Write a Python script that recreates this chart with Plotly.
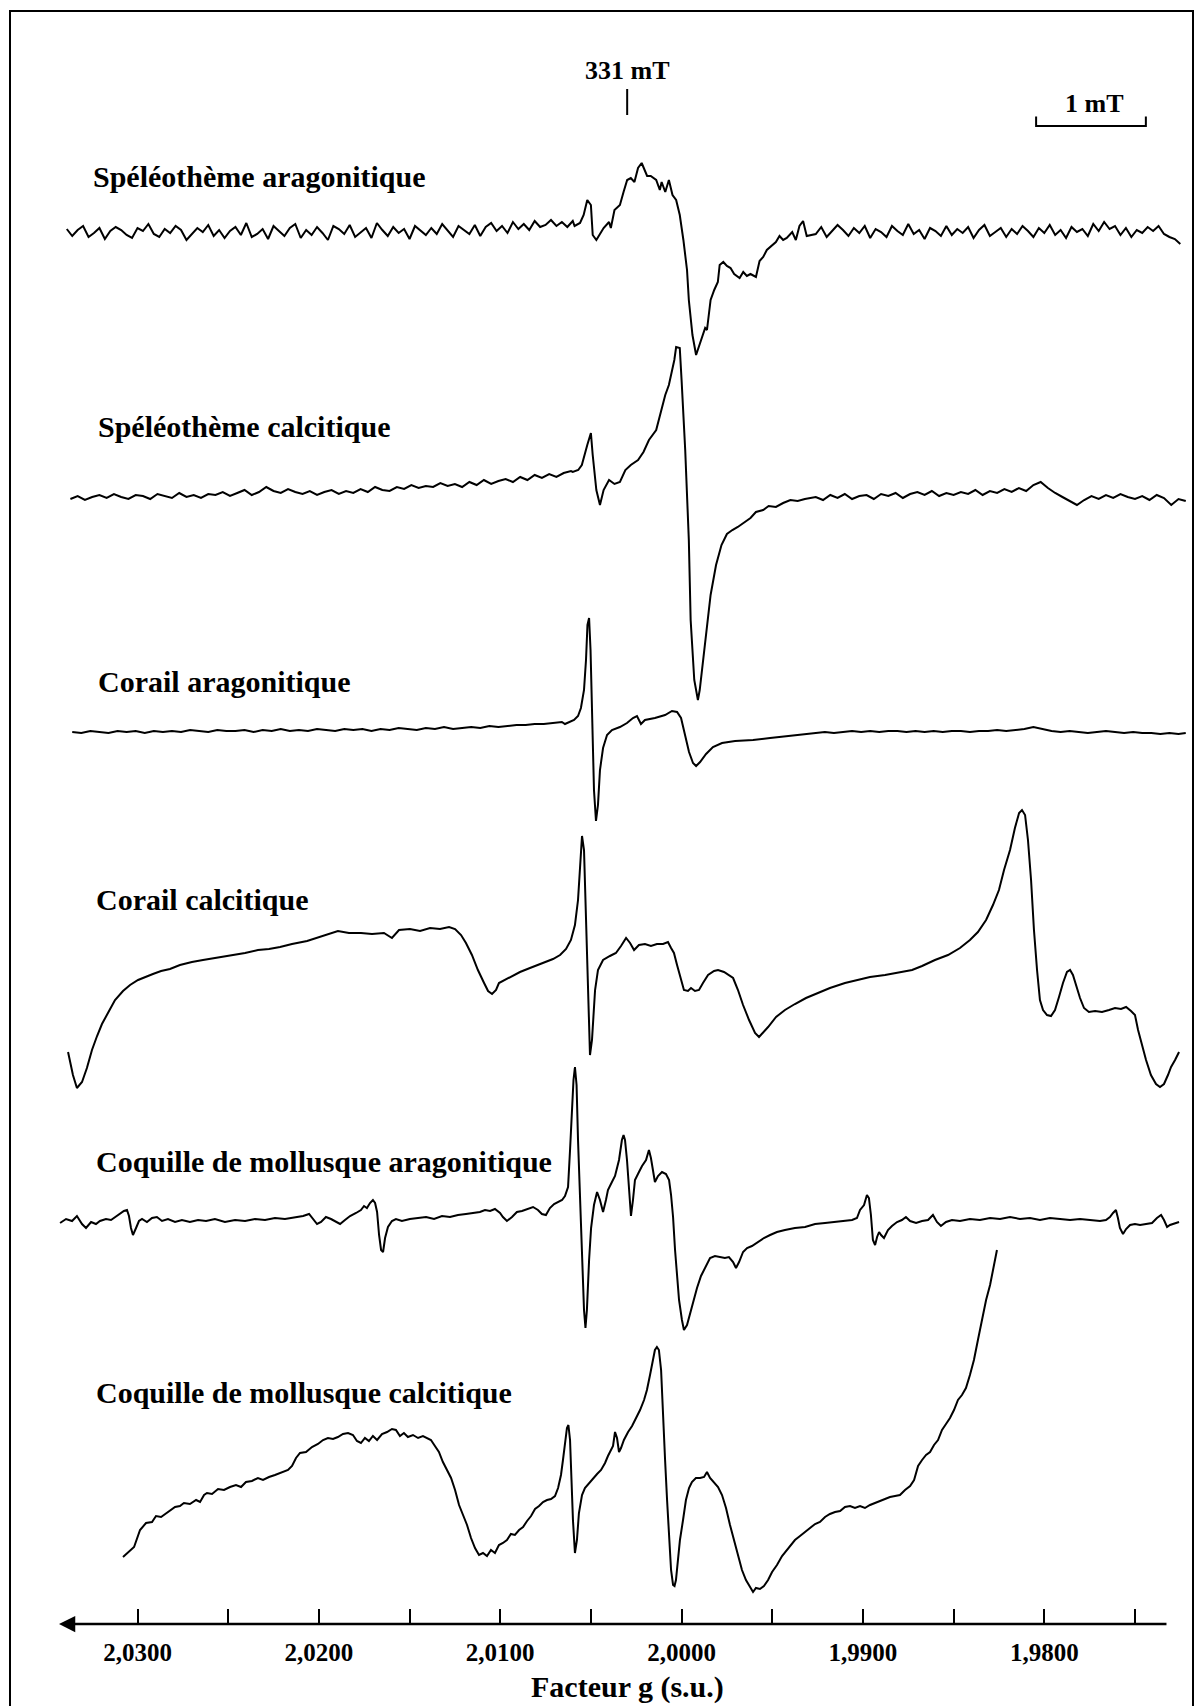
import plotly.graph_objects as go

# ------------------------------------------------------------------
# Values
# ------------------------------------------------------------------
g_tick_values = [2.030, 2.025, 2.020, 2.015, 2.010, 2.005, 2.000,
                 1.995, 1.990, 1.985, 1.980, 1.975]
g_tick_labels = ["2,0300", "", "2,0200", "", "2,0100", "", "2,0000",
                 "", "1,9900", "", "1,9800", ""]
axis_title = "Facteur g (s.u.)"
field_marker_mT = 331
field_marker_g = 2.0030
scale_bar_mT = 1
scale_bar_right_g = 1.9744

sample_names = ["Spéléothème aragonitique", "Spéléothème calcitique",
                "Corail aragonitique", "Corail calcitique",
                "Coquille de mollusque aragonitique",
                "Coquille de mollusque calcitique"]

# ---------------- Spéléothème aragonitique ----------------
s1_left_g = [2.0339, 2.0336, 2.0333, 2.0330, 2.0327, 2.0324, 2.0321, 2.0318, 2.0315, 2.0312,
             2.0309, 2.0306, 2.0303, 2.0300, 2.0297, 2.0294, 2.0291, 2.0288, 2.0285, 2.0282,
             2.0279, 2.0276, 2.0273, 2.0270, 2.0267, 2.0264, 2.0261, 2.0258, 2.0255, 2.0252,
             2.0249, 2.0246, 2.0243, 2.0240, 2.0237, 2.0234, 2.0231, 2.0228, 2.0225, 2.0222,
             2.0219, 2.0216, 2.0213, 2.0210, 2.0207, 2.0204, 2.0201, 2.0198, 2.0195, 2.0192,
             2.0189, 2.0186, 2.0183, 2.0180, 2.0177, 2.0174, 2.0171, 2.0168, 2.0165, 2.0162,
             2.0159, 2.0156, 2.0153, 2.0150, 2.0147, 2.0144, 2.0141, 2.0138, 2.0135, 2.0132,
             2.0129, 2.0126, 2.0123, 2.0120, 2.0117, 2.0114, 2.0111, 2.0108, 2.0105, 2.0102,
             2.0099, 2.0096, 2.0093, 2.0090, 2.0087, 2.0084, 2.0081, 2.0078, 2.0075, 2.0072,
             2.0069, 2.0066, 2.0063, 2.0060]
s1_left_i = [0.3, -0.4, 0.2, 0.6, -0.5, -0.1, 0.4, -0.7, 0.1, 0.5,
             0.2, -0.3, -0.6, 0.4, 0.1, 0.8, -0.2, -0.5, 0.3, -0.1,
             0.6, 0.2, -0.8, -0.2, 0.4, 0.0, 0.7, -0.4, 0.2, -0.6,
             0.1, 0.5, -0.3, 0.9, -0.5, -0.2, 0.3, -0.7, 0.6, 0.1,
             -0.4, 0.4, 0.8, -0.6, 0.2, -0.3, 0.5, -0.1, -0.8, 0.6,
             0.3, -0.2, 0.7, -0.5, 0.0, 0.4, -0.6, 0.9, 0.2, -0.4,
             0.5, -0.1, 0.3, -0.7, 0.6, 0.1, -0.3, 0.4, -0.2, 0.8,
             0.1, -0.5, 0.6, 0.2, -0.2, 0.7, -0.4, 0.5, 0.9, 0.1,
             0.6, -0.1, 1.0, 0.3, 0.8, 0.2, 1.1, 0.5, 0.7, 1.2,
             0.6, 1.0, 0.5, 1.1]
s1_mid_g = [2.0059, 2.0056, 2.0054, 2.0052, 2.0050, 2.0049, 2.0047, 2.0045, 2.0043, 2.0040,
            2.0039, 2.0037, 2.0034, 2.0032, 2.0030, 2.0028, 2.0026, 2.0024, 2.0022, 2.0019,
            2.0017, 2.0014, 2.0012, 2.0011, 2.0009, 2.0007, 2.0005, 2.0003, 2.0001, 1.9999,
            1.9997, 1.9996, 1.9994, 1.9992, 1.9991, 1.9989, 1.9987, 1.9986, 1.9984, 1.9982,
            1.9980, 1.9979, 1.9977, 1.9975, 1.9973, 1.9971, 1.9968, 1.9966, 1.9964, 1.9962,
            1.9959, 1.9957, 1.9955, 1.9953, 1.9950, 1.9948, 1.9946, 1.9944, 1.9942, 1.9939,
            1.9937, 1.9935, 1.9933, 1.9931]
s1_mid_i = [0.6, 0.9, 1.7, 3.2, 2.7, -0.3, -0.8, -0.2, 0.4, 1.0,
            0.4, 2.2, 2.7, 4.0, 5.2, 5.4, 5.0, 6.4, 6.9, 5.6,
            5.6, 5.2, 4.2, 5.0, 4.0, 5.2, 3.7, 3.2, 1.7, -0.8,
            -3.8, -6.8, -10.3, -12.3, -11.8, -10.8, -9.6, -9.8, -6.8, -5.8,
            -5.0, -3.3, -3.0, -3.4, -3.6, -4.2, -4.6, -4.0, -4.4, -4.2,
            -4.5, -2.9, -2.5, -1.8, -1.3, -1.0, -0.4, -0.8, -0.6, 0.0,
            -0.8, 0.6, 1.1, -0.4]
s1_right_g = [1.9926, 1.9923, 1.9920, 1.9917, 1.9914, 1.9911, 1.9908, 1.9905, 1.9902, 1.9899,
              1.9896, 1.9893, 1.9890, 1.9887, 1.9884, 1.9881, 1.9878, 1.9875, 1.9872, 1.9869,
              1.9866, 1.9863, 1.9860, 1.9857, 1.9854, 1.9851, 1.9848, 1.9845, 1.9842, 1.9839,
              1.9836, 1.9833, 1.9830, 1.9827, 1.9824, 1.9821, 1.9818, 1.9815, 1.9812, 1.9809,
              1.9806, 1.9803, 1.9800, 1.9797, 1.9794, 1.9791, 1.9788, 1.9785, 1.9782, 1.9779,
              1.9776, 1.9773, 1.9770, 1.9767, 1.9764, 1.9761, 1.9758, 1.9755, 1.9752, 1.9749,
              1.9746, 1.9743, 1.9740, 1.9737, 1.9734, 1.9731, 1.9728, 1.9725]
s1_right_i = [-0.2, 0.5, -0.5, 0.1, 0.7, 0.2, -0.4, 0.4, -0.1, 0.6,
              -0.6, 0.3, 0.0, -0.5, 0.6, 0.1, -0.3, 0.8, -0.2, 0.2,
              -0.7, 0.4, 0.1, -0.4, 0.6, -0.3, 0.3, -0.1, 0.5, -0.6,
              0.2, 0.7, -0.4, 0.0, 0.4, -0.5, 0.3, -0.2, 0.6, 0.1,
              -0.5, 0.4, -0.1, 0.7, -0.3, 0.2, -0.6, 0.5, 0.0, 0.3,
              -0.4, 0.8, 0.1, 1.0, 0.3, 0.6, -0.3, 0.4, -0.5, 0.2,
              -0.1, 0.5, 0.1, 0.6, -0.2, -0.5, -0.7, -1.2]

# ---------------- Spéléothème calcitique ----------------
s2_left_g = [2.0337, 2.0333, 2.0329, 2.0325, 2.0321, 2.0317, 2.0313, 2.0309, 2.0305, 2.0301,
             2.0297, 2.0293, 2.0289, 2.0285, 2.0281, 2.0277, 2.0273, 2.0269, 2.0265, 2.0261,
             2.0257, 2.0253, 2.0249, 2.0245, 2.0241, 2.0237, 2.0233, 2.0229, 2.0225, 2.0221,
             2.0217, 2.0213, 2.0209, 2.0205, 2.0201, 2.0197, 2.0193, 2.0189, 2.0185, 2.0181,
             2.0177, 2.0173, 2.0169, 2.0165, 2.0161, 2.0157, 2.0153, 2.0149, 2.0145, 2.0141,
             2.0137, 2.0133, 2.0129, 2.0125, 2.0121, 2.0117, 2.0113, 2.0109, 2.0105, 2.0101,
             2.0097, 2.0093, 2.0089, 2.0085, 2.0081, 2.0077, 2.0073, 2.0069, 2.0065, 2.0061]
s2_left_i = [-0.2, 0.1, -0.3, 0.0, 0.2, -0.1, 0.3, 0.0, -0.2, 0.2,
             0.1, -0.2, 0.3, 0.1, -0.1, 0.4, 0.0, 0.2, -0.1, 0.3,
             0.2, 0.5, 0.1, 0.4, 0.7, 0.2, 0.5, 1.0, 0.6, 0.4,
             0.8, 0.5, 0.3, 0.6, 0.2, 0.5, 0.7, 0.3, 0.6, 0.4,
             0.8, 0.5, 1.0, 0.7, 0.6, 1.0, 0.8, 1.2, 0.9, 1.1,
             1.0, 1.4, 1.1, 1.3, 1.0, 1.5, 1.2, 1.7, 1.3, 1.6,
             1.8, 1.5, 2.0, 1.7, 2.2, 1.9, 2.3, 2.0, 2.4, 2.6]
s2_mid_g = [2.0060, 2.0057, 2.0055, 2.0052, 2.0050, 2.0049, 2.0047, 2.0045, 2.0043, 2.0040,
            2.0037, 2.0034, 2.0031, 2.0028, 2.0024, 2.0021, 2.0018, 2.0014, 2.0011, 2.0009,
            2.0007, 2.0004, 2.0003, 2.0001, 2.0000, 1.9998, 1.9996, 1.9995, 1.9993, 1.9991,
            1.9990, 1.9988, 1.9986, 1.9984, 1.9981, 1.9978, 1.9975, 1.9972, 1.9969, 1.9965,
            1.9962, 1.9959, 1.9955, 1.9952, 1.9948, 1.9944, 1.9940, 1.9936, 1.9932]
s2_mid_i = [2.5, 2.7, 3.2, 5.2, 6.4, 4.2, 0.7, -0.8, 0.7, 1.7,
            1.3, 1.5, 2.7, 3.2, 3.7, 4.5, 5.7, 6.7, 8.7, 10.2,
            11.2, 13.7, 15.0, 14.9, 11.7, 4.7, -4.3, -12.3, -18.3, -20.3,
            -19.3, -16.3, -13.3, -9.8, -6.8, -4.8, -3.7, -3.3, -3.0, -2.5,
            -2.1, -1.5, -1.3, -0.9, -1.0, -0.6, -0.3, -0.4, -0.2]
s2_right_g = [1.9926, 1.9922, 1.9918, 1.9914, 1.9910, 1.9906, 1.9902, 1.9898, 1.9894, 1.9890,
              1.9886, 1.9882, 1.9878, 1.9874, 1.9870, 1.9866, 1.9862, 1.9858, 1.9854, 1.9850,
              1.9846, 1.9842, 1.9838, 1.9834, 1.9830, 1.9826, 1.9822, 1.9818, 1.9814, 1.9810,
              1.9806, 1.9802, 1.9798, 1.9794, 1.9790, 1.9786, 1.9782, 1.9778, 1.9774, 1.9770,
              1.9766, 1.9762, 1.9758, 1.9754, 1.9750, 1.9746, 1.9742, 1.9738, 1.9734, 1.9730,
              1.9726, 1.9722]
s2_right_i = [0.0, -0.3, 0.2, -0.1, 0.3, -0.2, 0.1, 0.2, -0.2, 0.3,
              0.1, 0.4, -0.1, 0.3, 0.5, 0.2, 0.6, 0.1, 0.4, 0.2,
              0.5, 0.3, 0.7, 0.2, 0.6, 0.4, 0.8, 0.5, 0.9, 0.6,
              1.2, 1.5, 0.9, 0.4, 0.0, -0.4, -0.8, -0.3, 0.1, -0.2,
              0.2, -0.1, 0.3, 0.0, -0.2, 0.1, -0.3, 0.2, -0.1, -0.8,
              -0.2, -0.4]

# ---------------- Corail aragonitique ----------------
s3_left_g = [2.0336, 2.0331, 2.0326, 2.0321, 2.0316, 2.0311, 2.0306, 2.0301, 2.0296, 2.0291,
             2.0286, 2.0281, 2.0276, 2.0271, 2.0266, 2.0261, 2.0256, 2.0251, 2.0246, 2.0241,
             2.0236, 2.0231, 2.0226, 2.0221, 2.0216, 2.0211, 2.0206, 2.0201, 2.0196, 2.0191,
             2.0186, 2.0181, 2.0176, 2.0171, 2.0166, 2.0161, 2.0156, 2.0151, 2.0146, 2.0141,
             2.0136, 2.0131, 2.0126, 2.0121, 2.0116, 2.0111, 2.0106, 2.0101, 2.0096, 2.0091,
             2.0086, 2.0081, 2.0076, 2.0071, 2.0066]
s3_left_i = [0.0, -0.1, 0.1, 0.0, -0.1, 0.1, 0.0, 0.1, -0.1, 0.1,
             0.0, 0.1, 0.0, 0.2, 0.1, 0.0, 0.2, 0.1, 0.1, 0.2,
             0.0, 0.2, 0.1, 0.3, 0.1, 0.2, 0.1, 0.3, 0.2, 0.1,
             0.3, 0.2, 0.3, 0.1, 0.3, 0.2, 0.4, 0.3, 0.2, 0.4,
             0.3, 0.5, 0.3, 0.4, 0.5, 0.4, 0.6, 0.5, 0.6, 0.7,
             0.7, 0.8, 0.8, 0.9, 1.0]
s3_mid_g = [2.00643, 2.00615, 2.00593, 2.00571, 2.00555, 2.00538, 2.00527, 2.00519, 2.00510, 2.00502,
            2.00494, 2.00483, 2.00472, 2.00461, 2.00450, 2.00433, 2.00411, 2.00384, 2.00340, 2.00301,
            2.00268, 2.00246, 2.00224, 2.00202, 2.00147, 2.00091, 2.00053, 2.00025, 2.00003, 1.99981,
            1.99959, 1.99937, 1.99920, 1.99898, 1.99865, 1.99827, 1.99777, 1.99705, 1.99606, 1.99512,
            1.99419, 1.99319]
s3_mid_i = [0.8, 1.0, 1.2, 1.6, 2.4, 4.2, 7.2, 10.7, 11.4, 8.2,
            1.2, -5.8, -8.9, -7.3, -3.8, -1.6, -0.3, 0.2, 0.5, 0.9,
            1.4, 1.6, 0.8, 1.2, 1.4, 1.7, 2.1, 2.0, 1.4, -0.3,
            -2.0, -3.1, -3.4, -3.0, -2.2, -1.5, -1.1, -0.9, -0.8, -0.6,
            -0.4, -0.2]
s3_right_g = [1.9926, 1.9921, 1.9916, 1.9911, 1.9906, 1.9901, 1.9896, 1.9891, 1.9886, 1.9881,
              1.9876, 1.9871, 1.9866, 1.9861, 1.9856, 1.9851, 1.9846, 1.9841, 1.9836, 1.9831,
              1.9826, 1.9821, 1.9816, 1.9811, 1.9806, 1.9801, 1.9796, 1.9791, 1.9786, 1.9781,
              1.9776, 1.9771, 1.9766, 1.9761, 1.9756, 1.9751, 1.9746, 1.9741, 1.9736, 1.9731,
              1.9726, 1.9722]
s3_right_i = [-0.1, 0.0, -0.1, 0.0, 0.1, 0.0, 0.1, 0.0, 0.1, 0.1,
              0.0, 0.1, 0.0, 0.1, 0.0, 0.1, 0.1, 0.0, 0.1, 0.1,
              0.2, 0.1, 0.2, 0.3, 0.5, 0.3, 0.1, 0.0, 0.1, 0.0,
              -0.1, 0.0, 0.1, 0.0, -0.1, 0.0, -0.1, -0.1, -0.2, -0.1,
              -0.2, -0.1]

# ---------------- Corail calcitique ----------------
s4_g = [2.03383, 2.03356, 2.03334, 2.03306, 2.03279, 2.03251, 2.03223, 2.03196, 2.03163, 2.03124,
        2.03080, 2.03041, 2.02997, 2.02959, 2.02915, 2.02870, 2.02821, 2.02766, 2.02700, 2.02639,
        2.02573, 2.02490, 2.02407, 2.02336, 2.02275, 2.02214, 2.02148, 2.02065, 2.01994, 2.01939,
        2.01895, 2.01834, 2.01768, 2.01707, 2.01641, 2.01597, 2.01558, 2.01498, 2.01442, 2.01387,
        2.01332, 2.01282, 2.01249, 2.01216, 2.01189, 2.01156, 2.01123, 2.01089, 2.01067, 2.01045,
        2.01023, 2.01007, 2.00974, 2.00941, 2.00891, 2.00836, 2.00792, 2.00753, 2.00709, 2.00670,
        2.00637, 2.00610, 2.00588, 2.00571, 2.00560, 2.00549, 2.00538, 2.00527, 2.00516, 2.00505,
        2.00494, 2.00477, 2.00461, 2.00433, 2.00395, 2.00362, 2.00334, 2.00306, 2.00284, 2.00262,
        2.00235, 2.00202, 2.00169, 2.00136, 2.00102, 2.00075, 2.00058, 2.00042, 2.00025, 2.00003,
        1.99987, 1.99965, 1.99948, 1.99926, 1.99904, 1.99882, 1.99854, 1.99821, 1.99799, 1.99766,
        1.99739, 1.99716, 1.99689, 1.99661, 1.99628, 1.99595, 1.99573, 1.99551, 1.99523, 1.99479,
        1.99430, 1.99375, 1.99314, 1.99248, 1.99182, 1.99099, 1.99027, 1.98961, 1.98878, 1.98796,
        1.98729, 1.98674, 1.98603, 1.98531, 1.98465, 1.98410, 1.98366, 1.98321, 1.98283, 1.98250,
        1.98222, 1.98189, 1.98162, 1.98139, 1.98123, 1.98106, 1.98090, 1.98073, 1.98057, 1.98040,
        1.98024, 1.98007, 1.97985, 1.97963, 1.97941, 1.97919, 1.97897, 1.97875, 1.97858, 1.97842,
        1.97825, 1.97803, 1.97781, 1.97754, 1.97720, 1.97682, 1.97643, 1.97610, 1.97577, 1.97549,
        1.97522, 1.97500, 1.97483, 1.97461, 1.97439, 1.97412, 1.97384, 1.97362, 1.97340, 1.97318,
        1.97301, 1.97279, 1.97257]
s4_i = [-9.2, -11.5, -12.8, -12.2, -10.8, -9.0, -7.6, -6.4, -5.3, -4.0,
        -3.1, -2.5, -2.0, -1.7, -1.4, -1.1, -0.9, -0.5, -0.2, 0.0,
        0.2, 0.5, 0.7, 1.0, 1.1, 1.3, 1.6, 1.9, 2.3, 2.6,
        2.9, 2.7, 2.7, 2.6, 2.7, 2.2, 3.0, 3.1, 2.9, 3.2,
        3.1, 3.3, 3.1, 2.5, 1.7, 0.5, -1.0, -2.3, -3.1, -3.4,
        -3.0, -2.3, -2.0, -1.7, -1.2, -0.8, -0.5, -0.2, 0.1, 0.5,
        1.1, 2.0, 3.5, 6.0, 9.5, 12.4, 11.0, 4.0, -4.0, -9.5,
        -8.0, -3.0, -1.0, 0.0, 0.4, 0.7, 1.4, 2.2, 1.7, 1.0,
        1.5, 1.6, 1.4, 1.6, 1.6, 1.8, 1.2, 0.7, -0.5, -2.0,
        -3.0, -3.1, -2.8, -3.1, -3.0, -2.3, -1.5, -1.1, -1.0, -1.2,
        -1.5, -1.8, -3.0, -4.5, -6.0, -7.3, -7.7, -7.3, -6.7, -5.7,
        -5.0, -4.4, -3.8, -3.3, -2.8, -2.3, -2.0, -1.7, -1.5, -1.2,
        -1.0, -0.6, 0.0, 0.5, 1.2, 2.0, 2.8, 4.0, 5.5, 7.0,
        9.0, 11.0, 13.2, 14.7, 15.0, 14.5, 12.0, 8.0, 3.0, -1.0,
        -4.0, -5.0, -5.5, -5.6, -5.0, -3.7, -2.3, -1.2, -1.0, -1.5,
        -2.5, -3.8, -4.8, -5.2, -5.1, -5.2, -5.0, -4.8, -4.9, -4.7,
        -5.1, -5.5, -7.0, -8.5, -10.0, -11.5, -12.4, -12.7, -12.4, -11.5,
        -10.7, -10.0, -9.2]

# ---------------- Coquille de mollusque aragonitique ----------------
s5_g = [2.03427, 2.03394, 2.03361, 2.03334, 2.03306, 2.03284, 2.03256, 2.03229, 2.03207, 2.03174,
        2.03146, 2.03124, 2.03097, 2.03075, 2.03058, 2.03047, 2.03036, 2.03025, 2.03008, 2.02992,
        2.02975, 2.02948, 2.02920, 2.02893, 2.02865, 2.02832, 2.02793, 2.02755, 2.02711, 2.02666,
        2.02622, 2.02573, 2.02518, 2.02462, 2.02407, 2.02352, 2.02297, 2.02242, 2.02187, 2.02132,
        2.02087, 2.02054, 2.02032, 2.02010, 2.01988, 2.01961, 2.01933, 2.01906, 2.01883, 2.01856,
        2.01828, 2.01795, 2.01768, 2.01751, 2.01735, 2.01718, 2.01702, 2.01690, 2.01679, 2.01668,
        2.01657, 2.01646, 2.01635, 2.01619, 2.01597, 2.01575, 2.01542, 2.01498, 2.01453, 2.01409,
        2.01365, 2.01321, 2.01277, 2.01233, 2.01189, 2.01145, 2.01112, 2.01084, 2.01056, 2.01029,
        2.01001, 2.00985, 2.00963, 2.00935, 2.00908, 2.00880, 2.00847, 2.00819, 2.00792, 2.00770,
        2.00748, 2.00726, 2.00703, 2.00681, 2.00659, 2.00643, 2.00626, 2.00615, 2.00604, 2.00596,
        2.00588, 2.00579, 2.00571, 2.00560, 2.00549, 2.00538, 2.00530, 2.00522, 2.00510, 2.00499,
        2.00483, 2.00466, 2.00450, 2.00433, 2.00417, 2.00406, 2.00384, 2.00367, 2.00345, 2.00329,
        2.00320, 2.00312, 2.00301, 2.00290, 2.00279, 2.00268, 2.00257, 2.00235, 2.00218, 2.00196,
        2.00180, 2.00169, 2.00158, 2.00147, 2.00130, 2.00108, 2.00086, 2.00069, 2.00058, 2.00047,
        2.00036, 2.00025, 2.00014, 1.99998, 1.99987, 1.99970, 1.99954, 1.99937, 1.99915, 1.99893,
        1.99871, 1.99843, 1.99816, 1.99788, 1.99761, 1.99739, 1.99716, 1.99700, 1.99683, 1.99661,
        1.99639, 1.99612, 1.99579, 1.99546, 1.99512, 1.99474, 1.99430, 1.99375, 1.99319, 1.99264,
        1.99209, 1.99154, 1.99099, 1.99060, 1.99033, 1.99016, 1.98994, 1.98978, 1.98967, 1.98956,
        1.98945, 1.98933, 1.98922, 1.98911, 1.98900, 1.98884, 1.98862, 1.98840, 1.98812, 1.98785,
        1.98763, 1.98740, 1.98707, 1.98674, 1.98641, 1.98614, 1.98592, 1.98570, 1.98542, 1.98509,
        1.98465, 1.98410, 1.98355, 1.98299, 1.98244, 1.98189, 1.98134, 1.98079, 1.98024, 1.97969,
        1.97913, 1.97858, 1.97803, 1.97748, 1.97693, 1.97660, 1.97638, 1.97621, 1.97605, 1.97594,
        1.97583, 1.97566, 1.97549, 1.97527, 1.97500, 1.97472, 1.97439, 1.97406, 1.97379, 1.97356,
        1.97340, 1.97323, 1.97307, 1.97285, 1.97257]
s5_i = [-0.2, 0.2, 0.0, 0.5, -0.3, -0.7, -0.1, -0.3, 0.0, 0.2,
        0.1, 0.4, 0.7, 1.0, 1.1, 0.5, -0.7, -1.4, -0.7, 0.0,
        0.2, -0.1, 0.3, 0.4, 0.0, 0.2, -0.1, 0.1, -0.1, 0.1,
        0.0, 0.2, -0.1, 0.1, 0.0, 0.2, 0.1, 0.3, 0.2, 0.4,
        0.5, 0.7, 0.2, -0.3, -0.1, 0.4, 0.2, -0.1, -0.3, 0.1,
        0.5, 0.8, 1.1, 1.5, 1.3, 1.8, 2.1, 1.8, 0.9, -1.4,
        -2.9, -3.1, -1.7, -0.6, 0.0, 0.2, 0.0, 0.2, 0.3, 0.4,
        0.2, 0.5, 0.4, 0.6, 0.7, 0.8, 0.9, 1.1, 1.0, 1.2,
        0.8, 0.4, 0.0, 0.4, 0.9, 1.0, 1.2, 1.4, 1.1, 0.7,
        0.6, 1.3, 1.7, 1.9, 2.1, 2.5, 3.4, 7.1, 11.1, 14.1,
        15.4, 13.6, 8.1, 2.1, -3.4, -8.9, -10.7, -8.9, -3.9, -0.7,
        1.6, 2.9, 2.1, 0.9, 2.1, 3.1, 3.9, 4.5, 6.1, 8.1,
        8.6, 8.1, 6.1, 3.6, 0.5, 2.1, 4.1, 4.9, 5.5, 6.1,
        7.1, 6.3, 4.9, 3.9, 4.5, 4.9, 4.7, 4.1, 2.6, 0.4,
        -2.9, -5.9, -7.9, -9.9, -10.9, -10.4, -9.3, -8.1, -6.7, -5.5,
        -4.7, -3.7, -3.5, -3.6, -3.7, -3.6, -4.1, -4.7, -4.1, -3.1,
        -2.7, -2.5, -2.1, -1.7, -1.4, -1.1, -0.9, -0.7, -0.6, -0.3,
        -0.2, -0.1, 0.0, 0.1, 0.3, 1.1, 1.6, 2.6, 2.3, 0.6,
        -1.9, -2.4, -1.6, -1.1, -1.4, -1.7, -0.9, -0.5, -0.1, 0.1,
        0.4, 0.0, -0.2, 0.0, 0.1, 0.6, -0.1, -0.5, -0.1, 0.1,
        0.0, 0.2, 0.1, 0.3, 0.2, 0.4, 0.2, 0.3, 0.1, 0.3,
        0.2, 0.1, 0.2, 0.1, 0.0, 0.1, 0.4, 0.8, 1.1, 0.3,
        -0.7, -1.3, -0.8, -0.4, -0.3, -0.4, -0.3, -0.2, 0.3, 0.6,
        0.1, -0.6, -0.4, -0.3, -0.1]

# ---------------- Coquille de mollusque calcitique ----------------
s6_g = [2.03080, 2.03052, 2.03019, 2.02986, 2.02953, 2.02920, 2.02898, 2.02870, 2.02832, 2.02793,
        2.02766, 2.02744, 2.02711, 2.02677, 2.02655, 2.02633, 2.02617, 2.02589, 2.02556, 2.02523,
        2.02490, 2.02457, 2.02429, 2.02402, 2.02369, 2.02336, 2.02308, 2.02275, 2.02242, 2.02209,
        2.02170, 2.02148, 2.02126, 2.02104, 2.02071, 2.02038, 2.02005, 2.01977, 2.01950, 2.01922,
        2.01895, 2.01867, 2.01839, 2.01812, 2.01790, 2.01768, 2.01746, 2.01724, 2.01702, 2.01679,
        2.01652, 2.01624, 2.01597, 2.01575, 2.01553, 2.01531, 2.01509, 2.01481, 2.01453, 2.01426,
        2.01404, 2.01382, 2.01360, 2.01338, 2.01316, 2.01293, 2.01271, 2.01249, 2.01227, 2.01205,
        2.01183, 2.01161, 2.01139, 2.01117, 2.01095, 2.01073, 2.01051, 2.01029, 2.01007, 2.00985,
        2.00963, 2.00941, 2.00919, 2.00896, 2.00874, 2.00852, 2.00830, 2.00808, 2.00786, 2.00764,
        2.00742, 2.00720, 2.00698, 2.00681, 2.00665, 2.00654, 2.00643, 2.00632, 2.00624, 2.00615,
        2.00607, 2.00599, 2.00588, 2.00577, 2.00566, 2.00549, 2.00533, 2.00510, 2.00488, 2.00466,
        2.00444, 2.00422, 2.00406, 2.00389, 2.00378, 2.00367, 2.00356, 2.00345, 2.00334, 2.00318,
        2.00295, 2.00273, 2.00251, 2.00229, 2.00207, 2.00191, 2.00174, 2.00158, 2.00147, 2.00136,
        2.00125, 2.00113, 2.00102, 2.00091, 2.00080, 2.00069, 2.00058, 2.00047, 2.00039, 2.00031,
        2.00020, 2.00009, 1.99992, 1.99976, 1.99959, 1.99943, 1.99921, 1.99898, 1.99876, 1.99860,
        1.99843, 1.99821, 1.99799, 1.99777, 1.99755, 1.99733, 1.99711, 1.99689, 1.99667, 1.99645,
        1.99623, 1.99606, 1.99590, 1.99568, 1.99546, 1.99523, 1.99501, 1.99474, 1.99446, 1.99419,
        1.99397, 1.99375, 1.99347, 1.99319, 1.99292, 1.99264, 1.99237, 1.99209, 1.99182, 1.99154,
        1.99126, 1.99099, 1.99071, 1.99044, 1.99016, 1.98989, 1.98961, 1.98933, 1.98906, 1.98878,
        1.98851, 1.98823, 1.98796, 1.98768, 1.98740, 1.98718, 1.98696, 1.98674, 1.98652, 1.98630,
        1.98608, 1.98586, 1.98564, 1.98542, 1.98520, 1.98498, 1.98476, 1.98454, 1.98432, 1.98410,
        1.98388, 1.98366, 1.98344, 1.98321, 1.98299, 1.98277, 1.98261]
s6_i = [-5.7, -5.2, -4.7, -3.0, -2.3, -2.2, -1.6, -1.7, -1.2, -0.7,
        -0.6, -0.3, -0.4, 0.0, -0.2, 0.5, 0.7, 0.6, 1.1, 1.0,
        1.3, 1.5, 1.3, 1.8, 1.9, 2.2, 2.0, 2.3, 2.5, 2.7,
        3.0, 3.4, 4.2, 4.7, 4.8, 5.3, 5.6, 6.0, 6.2, 6.1,
        6.3, 6.6, 6.7, 6.5, 5.9, 5.7, 6.2, 5.9, 6.4, 6.0,
        6.6, 6.8, 7.1, 7.0, 6.4, 6.7, 6.3, 6.5, 6.2, 6.4,
        6.2, 6.0, 5.4, 4.8, 3.8, 3.0, 2.2, 1.0, -0.5, -1.5,
        -2.5, -3.8, -4.8, -5.5, -5.3, -5.6, -5.0, -5.3, -4.5, -4.3,
        -4.0, -3.4, -3.5, -3.0, -2.7, -2.1, -1.6, -0.9, -0.6, -0.2,
        0.0, 0.1, 0.4, 1.2, 2.5, 4.0, 5.5, 7.2, 7.5, 6.0,
        2.0, -2.0, -5.3, -4.0, -1.3, 0.5, 1.2, 1.7, 2.1, 2.6,
        3.0, 3.7, 4.4, 5.0, 5.4, 6.8, 6.2, 4.8, 5.2, 6.0,
        6.8, 7.4, 8.2, 9.0, 10.0, 11.0, 12.5, 14.0, 15.0, 15.3,
        15.0, 13.0, 8.0, 4.0, 0.0, -4.0, -7.0, -8.5, -8.6, -8.0,
        -6.0, -4.0, -2.0, 0.0, 1.2, 1.8, 2.2, 2.2, 2.3, 2.8,
        2.2, 1.8, 1.3, 0.5, -0.8, -2.5, -4.0, -5.5, -7.0, -8.0,
        -8.7, -9.2, -8.8, -8.9, -8.6, -8.0, -7.2, -6.5, -5.6, -5.0,
        -4.6, -4.0, -3.6, -3.2, -2.8, -2.4, -2.2, -1.7, -1.4, -1.2,
        -1.1, -0.7, -0.6, -0.8, -0.6, -0.8, -0.5, -0.3, -0.1, 0.1,
        0.3, 0.4, 0.5, 1.0, 1.4, 2.0, 3.4, 4.0, 4.5, 4.8,
        5.5, 6.0, 7.0, 7.6, 8.2, 9.0, 10.0, 10.5, 11.2, 12.5,
        14.0, 16.0, 18.0, 20.0, 21.5, 23.5, 25.0]

spectra_g = [s1_left_g + s1_mid_g + s1_right_g,
             s2_left_g + s2_mid_g + s2_right_g,
             s3_left_g + s3_mid_g + s3_right_g,
             s4_g, s5_g, s6_g]
spectra_i = [s1_left_i + s1_mid_i + s1_right_i,
             s2_left_i + s2_mid_i + s2_right_i,
             s3_left_i + s3_mid_i + s3_right_i,
             s4_i, s5_i, s6_i]
for gs, vs in zip(spectra_g, spectra_i):
    assert len(gs) == len(vs), (len(gs), len(vs))

# ------------------------------------------------------------------
# Layout (positions / styles)
# ------------------------------------------------------------------
W, H = 1204, 1706
G_RANGE = [2.037582, 1.971194]
Y_RANGE = [8.2, 170.6]
Y_DOMAIN = [82 / 1706, 1.0]
stack_offsets = [147.4, 120.9, 97.4, 74.6, 48.5, 20.6]
label_x = [2.03256, 2.03229, 2.03229, 2.03240, 2.03240, 2.03240]
label_y = [153.0, 128.0, 102.5, 80.7, 54.5, 31.4]
FONT = "Liberation Serif"
BLACK = "#000000"

fig = go.Figure()
for gs, vs, off in zip(spectra_g, spectra_i, stack_offsets):
    fig.add_trace(go.Scatter(
        x=gs, y=[off + v for v in vs], mode="lines",
        line=dict(color=BLACK, width=2), hoverinfo="skip", showlegend=False))

# sample labels
for name, lx, ly in zip(sample_names, label_x, label_y):
    fig.add_annotation(x=lx, y=ly, xref="x", yref="y", text=name, showarrow=False,
                       xanchor="left", yanchor="middle",
                       font=dict(family=FONT, size=30, color=BLACK, weight="bold"))

# g-axis line with arrow
fig.add_annotation(x=2.03433, y=Y_RANGE[0], ax=1.97318, ay=Y_RANGE[0],
                   xref="x", yref="y", axref="x", ayref="y", text="",
                   showarrow=True, arrowhead=2, arrowsize=1.3, arrowwidth=2.5,
                   arrowcolor=BLACK, standoff=0, startstandoff=0)

# axis title
fig.add_annotation(x=627 / W, y=19 / H, xref="paper", yref="paper", text=axis_title,
                   showarrow=False, xanchor="center", yanchor="middle",
                   font=dict(family=FONT, size=30, color=BLACK, weight="bold"))

# 331 mT marker
fig.add_shape(type="line", xref="x", yref="y", x0=field_marker_g, x1=field_marker_g,
              y0=159.1, y1=161.7, line=dict(color=BLACK, width=2))
fig.add_annotation(x=field_marker_g, y=163.6, xref="x", yref="y",
                   text=f"{field_marker_mT} mT", showarrow=False,
                   xanchor="center", yanchor="middle",
                   font=dict(family=FONT, size=26, color=BLACK, weight="bold"))

# 1 mT scale bar
g_right = scale_bar_right_g
g_left = scale_bar_right_g + field_marker_g * scale_bar_mT / field_marker_mT
fig.add_shape(type="path", xref="x", yref="y",
              path=f"M {g_left},158.95 L {g_left},158.0 L {g_right},158.0 L {g_right},158.95",
              line=dict(color=BLACK, width=2))
fig.add_annotation(x=(g_left + g_right) / 2 - 0.0002, y=160.3, xref="x", yref="y",
                   text=f"{scale_bar_mT} mT", showarrow=False,
                   xanchor="center", yanchor="middle",
                   font=dict(family=FONT, size=26, color=BLACK, weight="bold"))

# frame
fx0, fx1, fy1 = 10 / W, 1193 / W, 1 - 11 / H
fig.add_shape(type="path", xref="paper", yref="paper",
              path=f"M {fx0},-0.01 L {fx0},{fy1} L {fx1},{fy1} L {fx1},-0.01",
              line=dict(color=BLACK, width=2))

fig.update_layout(
    width=W, height=H,
    margin=dict(l=0, r=0, t=0, b=0),
    plot_bgcolor="white", paper_bgcolor="white",
    showlegend=False,
    xaxis=dict(range=G_RANGE, domain=[0, 1], anchor="y",
               showgrid=False, zeroline=False, showline=False,
               ticks="inside", ticklen=15, tickwidth=2, tickcolor=BLACK,
               tickvals=g_tick_values, ticktext=g_tick_labels,
               ticklabelstandoff=11,
               tickfont=dict(family=FONT, size=25, color=BLACK, weight="bold"),
               fixedrange=True),
    yaxis=dict(range=Y_RANGE, domain=Y_DOMAIN, visible=False,
               showgrid=False, zeroline=False, fixedrange=True),
)

fig.write_html("out.html", config={"displayModeBar": False},
               post_script="document.body.style.margin='0px';")
